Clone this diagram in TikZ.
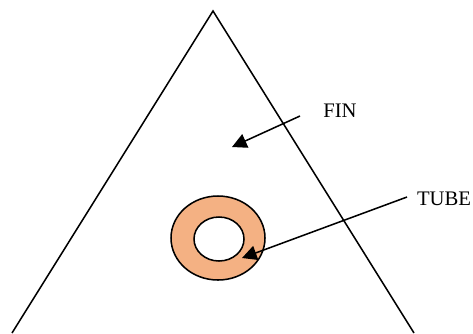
\documentclass[tikz,border=0pt]{standalone}
\usepackage{fontspec}
\setmainfont{Liberation Serif}
\usetikzlibrary{arrows.meta,shapes.geometric}
\definecolor{tubeorange}{RGB}{244,177,131}

\begin{document}
\begin{tikzpicture}[
      x=0.75pt,y=-0.75pt,
      wall/.style={draw=black,line width=1.15pt},
      label/.style={inner sep=0pt,font=\fontsize{15.5}{18}\selectfont},
      arr/.style={-{Triangle[length=11pt,width=11pt]},line width=1.15pt}
    ]
    \useasboundingbox (0,0) rectangle (473,333);

    % fin outline runs off the bottom edge
    \coordinate (apex) at (213,11);
    \coordinate (baseleft) at (12,333);
    \coordinate (baseright) at (414,333);
    \draw[wall] (baseleft) -- (apex) -- (baseright);

    \node[wall,ellipse,fill=tubeorange,minimum width=70.5pt,minimum height=63pt,inner sep=0pt] (tube) at (218,238) {};
    \node[wall,ellipse,fill=white,minimum width=37.5pt,minimum height=33pt,inner sep=0pt] (bore) at (219,239) {};

    \node[label] (fin) at (340,111) {FIN};
    \node[label] (tubelabel) at (444,199) {TUBE};

    \coordinate (finstart) at (300,116);
    \coordinate (fintip) at (232,147);
    \coordinate (tubestart) at (407,197);
    \coordinate (tubetip) at (242,258);

    \draw[arr] (finstart) -- (fintip);
    \draw[arr] (tubestart) -- (tubetip);
  \end{tikzpicture}
\end{document}
